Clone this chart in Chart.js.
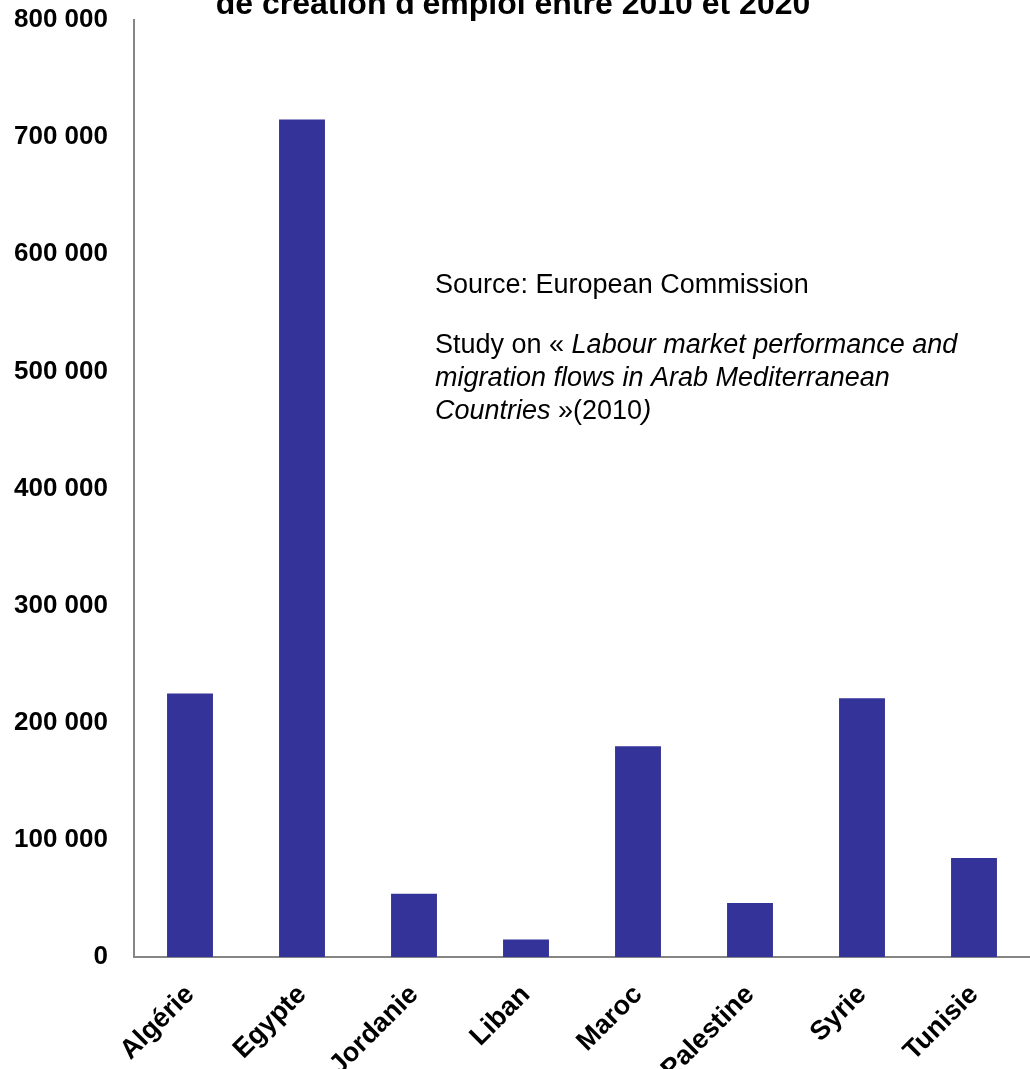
<!DOCTYPE html>
<html>
<head>
<meta charset="utf-8">
<script src="https://cdn.jsdelivr.net/npm/chart.js@4"></script>
<style>
  html, body { margin: 0; padding: 0; background: #ffffff; }
  #wrap { width: 1030px; height: 1069px; position: relative; }
</style>
</head>
<body>
<div id="wrap"><canvas id="chart"></canvas></div>
<script>
// countries and estimated job creation needs
const countries = ["Algérie", "Egypte", "Jordanie", "Liban", "Maroc", "Palestine", "Syrie", "Tunisie"];
const jobs = [225000, 715000, 54000, 15000, 180000, 46000, 221000, 84500];
const yTicks = [0, 100000, 200000, 300000, 400000, 500000, 600000, 700000, 800000];

const titleLine = "de création d'emploi entre 2010 et 2020";
const FONT = "'Liberation Sans', Arial, sans-serif";

function fmt(v) {
  return String(v).replace(/\B(?=(\d{3})+(?!\d))/g, " ");
}

/** Title (clipped at top) and source note */
const overlay = {
  id: "overlay",
  afterDraw(chart) {
    const ctx = chart.ctx;
    ctx.save();
    ctx.fillStyle = "#000";
    ctx.textBaseline = "alphabetic";

    ctx.font = "bold 32px " + FONT;
    ctx.textAlign = "center";
    ctx.fillText(titleLine, 513, 14);

    ctx.textAlign = "left";
    const x0 = 435;
    const normal = "27px " + FONT, italic = "italic 27px " + FONT;
    const runs = [
      [293, [[normal, "Source: European Commission"]]],
      [353, [[normal, "Study on « "], [italic, "Labour market performance and"]]],
      [386, [[italic, "migration flows in Arab Mediterranean"]]],
      [419, [[italic, "Countries "], [normal, "»(2010"], [italic, ")"]]]
    ];
    runs.forEach(([y, parts]) => {
      let x = x0;
      parts.forEach(([f, t]) => {
        ctx.font = f;
        ctx.fillText(t, x, y);
        x += ctx.measureText(t).width;
      });
    });
    ctx.restore();
  }
};

new Chart(document.getElementById("chart"), {
  type: "bar",
  data: {
    labels: countries,
    datasets: [{
      data: jobs,
      backgroundColor: "#333399",
      borderWidth: 0,
      categoryPercentage: 1,
      barPercentage: 0.41
    }]
  },
  options: {
    responsive: true,
    maintainAspectRatio: false,
    animation: false,
    layout: { padding: { top: 20, right: 0, left: 0, bottom: 0 } },
    plugins: {
      legend: { display: false },
      title: { display: false },
      tooltip: { enabled: false }
    },
    scales: {
      x: {
        grid: { display: false },
        border: { display: true, color: "#868686", width: 2 },
        ticks: {
          color: "#000",
          font: { family: FONT, size: 27, weight: "bold" },
          maxRotation: 45,
          minRotation: 45,
          padding: 14
        },
        afterFit: s => { s.height = 112; s.paddingLeft = 0; s.paddingRight = 0; }
      },
      y: {
        min: 0,
        max: 800000,
        grid: { display: false },
        border: { display: true, color: "#868686", width: 2 },
        afterBuildTicks: s => { s.ticks = yTicks.map(v => ({ value: v })); },
        ticks: {
          color: "#000",
          font: { family: FONT, size: 26, weight: "bold" },
          padding: 18,
          callback: v => fmt(v)
        },
        afterFit: s => { s.width = 134; s.paddingTop = 0; s.paddingBottom = 0; }
      }
    }
  },
  plugins: [overlay]
});
</script>
</body>
</html>
